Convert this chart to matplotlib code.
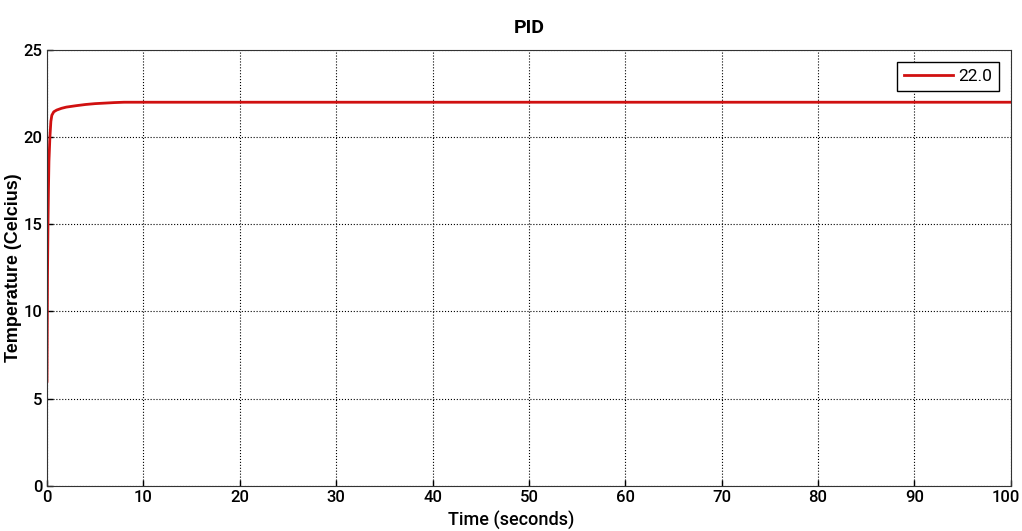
import matplotlib.pyplot as plt
from matplotlib.transforms import ScaledTranslation

# step response of the PID temperature loop
t = [0, 0.05, 0.1, 0.15, 0.2, 0.3, 0.4, 0.5, 0.7, 1, 1.5, 2, 3, 4, 5, 6, 7, 8, 10, 20, 50, 100]
temp = [6, 12, 15, 17, 18.6, 20, 20.9, 21.25, 21.45, 21.55, 21.65, 21.72, 21.8, 21.87, 21.92, 21.95, 21.98, 22.0, 22.0, 22.0, 22.0, 22.0]

xticks = list(range(0, 101, 10))
yticks = list(range(0, 26, 5))

narrow = ['DejaVu Sans Condensed', 'Liberation Sans Narrow', 'Roboto', 'DejaVu Sans']

fig = plt.figure(figsize=(10.22, 5.31), dpi=100)
ax = fig.add_axes([0.046, 0.085, 0.943, 0.821])

ax.plot(t, temp, color='#d01010', linewidth=2, label='22.0')

ax.set_xlim(0, 100)
ax.set_ylim(0, 25)
ax.set_xticks(xticks)
ax.set_yticks(yticks)
ax.tick_params(direction='in', length=4, width=1, labelsize=12, pad=3)
for lab in ax.get_xticklabels() + ax.get_yticklabels():
    lab.set_family(narrow)
    lab.set_fontweight('medium')

# keep "100" inside the canvas
last = ax.get_xticklabels()[-1]
last.set_horizontalalignment('right')
last.set_transform(last.get_transform() + ScaledTranslation(0.09, 0, fig.dpi_scale_trans))

ax.grid(True, color='black', linestyle=':', linewidth=0.8)
for s in ax.spines.values():
    s.set_color('#333333')

ax.set_title('PID', family=narrow, fontsize=14, fontweight='bold', pad=12)
ax.set_xlabel('Time (seconds)', family=narrow, fontsize=13, fontweight='medium')
ax.xaxis.set_label_coords(0.482, -0.058)
ax.set_ylabel('Temperature (Celcius)', family=['Liberation Sans', 'DejaVu Sans'],
              fontsize=13, fontweight='bold')
ax.yaxis.set_label_coords(-0.026, 0.5)

leg = ax.legend(loc='upper right', fancybox=False, edgecolor='black',
                prop={'family': narrow, 'size': 12.5}, handlelength=2.8,
                handletextpad=0.3, borderaxespad=0.7, framealpha=1)
leg.get_frame().set_linewidth(1)

fig.savefig('out.png', dpi=100)
